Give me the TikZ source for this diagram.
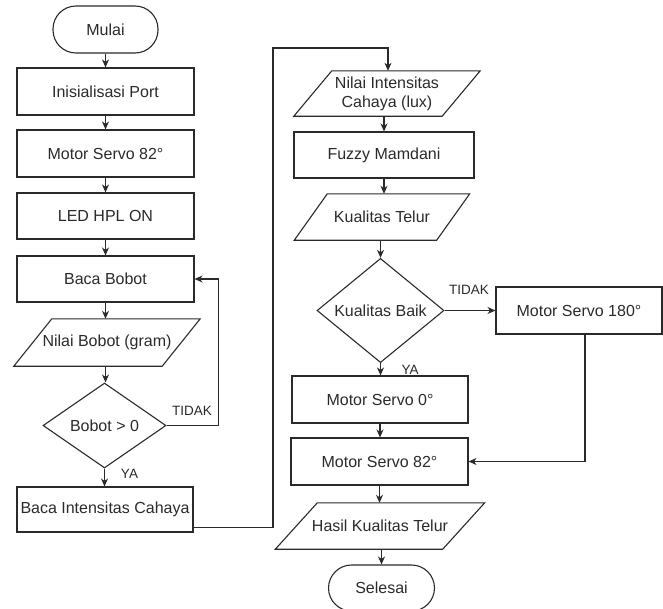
\documentclass[tikz,border=0pt]{standalone}
\usepackage{fontspec}
\setmainfont{Liberation Sans}
\usetikzlibrary{shapes.geometric,arrows.meta}
\definecolor{ink}{HTML}{2A2A2A}
% name, x, y, width, height, half slant, text
\newcommand\iobox[7]{%
  \node[iotext, minimum width=#4pt, minimum height=#5pt] (#1) at (#2,#3) {#7};
  \draw[shapeline] ([xshift=-#6pt]#1.south west) -- ([xshift=#6pt]#1.north west)
    -- ([xshift=#6pt]#1.north east) -- ([xshift=-#6pt]#1.south east) -- cycle;
}
\begin{document}
\begin{tikzpicture}[x=1pt,y=-1pt,
  font=\fontsize{16}{19}\selectfont, text=ink,
  proc/.style={draw=ink, line width=1.1pt, rectangle, minimum width=177pt, minimum height=47pt, inner sep=0pt, align=center},
  term/.style={draw=ink, line width=1.1pt, rectangle, rounded corners=23pt, minimum width=105pt, minimum height=47pt, inner sep=0pt},
  dec/.style={draw=ink, line width=1.1pt, diamond, inner sep=0pt},
  iotext/.style={rectangle, inner sep=0pt, align=center},
  shapeline/.style={draw=ink, line width=1.1pt, line join=miter},
  arr/.style={draw=ink, line width=1.1pt, -{Stealth[length=8pt,width=7pt,inset=2.5pt]}},
  lbl/.style={font=\fontsize{13.5}{16}\selectfont, inner sep=0pt}]
\useasboundingbox (0,0) rectangle (663,608);

% left column
\node[term] (mulai) at (105.5,29.5) {Mulai};
\node[proc] (init) at (105.5,91.5) {Inisialisasi Port};
\node[proc] (servoA) at (105.5,153.5) {Motor Servo 82°};
\node[proc, minimum height=46pt] (led) at (105.5,216) {LED HPL ON};
\node[proc, minimum height=46pt] (bacab) at (105.5,279) {Baca Bobot};
\iobox{nilaib}{107}{342.5}{148}{47}{19}{Nilai Bobot (gram)}
\node[dec, minimum width=123pt, minimum height=85pt] (dec1) at (104.5,425.5) {Bobot > 0};
\node[proc, minimum width=176pt, minimum height=45pt] (bacai) at (105,509.5) {Baca Intensitas Cahaya};

% right column
\iobox{nilaii}{387}{93.5}{148}{45}{19}{Nilai Intensitas\\Cahaya (lux)}
\node[proc, minimum width=180pt, minimum height=46pt] (fuzzy) at (384,155) {Fuzzy Mamdani};
\iobox{kual}{382}{217}{142}{46}{16.5}{Kualitas Telur}
\node[dec, minimum width=127pt, minimum height=101pt] (dec2) at (380.5,310.5) {Kualitas Baik};
\node[proc, minimum width=166pt] (s180) at (579,310.5) {Motor Servo 180°};
\node[proc, minimum width=176pt] (s0) at (380,399.5) {Motor Servo 0°};
\node[proc] (s82) at (379.5,461.5) {Motor Servo 82°};
\iobox{hasil}{380}{526}{167}{46}{21}{Hasil Kualitas Telur}
\node[term, minimum width=106pt, minimum height=46pt] (selesai) at (381.5,588) {Selesai};

% connectors left
\draw[arr] (mulai.south) -- (mulai.south |- init.north);
\draw[arr] (init.south) -- (servoA.north);
\draw[arr] (servoA.south) -- (led.north);
\draw[arr] (led.south) -- (bacab.north);
\draw[arr] (bacab.south) -- (bacab.south |- nilaib.north);
\draw[arr] (bacab.south |- nilaib.south) -- (bacab.south |- dec1.north);
\draw[arr] (dec1.east) -| ([xshift=24pt]bacab.east) -- (bacab.east);
\draw[arr] (dec1.south) -- (dec1.south |- bacai.north);
\node[lbl] (t1) at (192,411) {TIDAK};
\node[lbl] (y1) at (129.5,474) {YA};

% cross connector
\coordinate (cA) at (273,48);
\draw[arr] ([yshift=5pt]bacai.south east) -| (cA) -| ([xshift=1pt]nilaii.north);

% connectors right
\draw[arr] (fuzzy.north |- nilaii.south) -- (fuzzy.north);
\draw[arr] (fuzzy.south) -- (fuzzy.south |- kual.north);
\draw[arr] (dec2.north |- kual.south) -- (dec2.north);
\draw[arr] (dec2.east) -- (s180.west);
\draw[arr] (dec2.south) -- (dec2.south |- s0.north);
\draw[arr] (s0.south) -- (s0.south |- s82.north);
\draw[arr] ([xshift=6pt]s180.south) |- (s82.east);
\draw[arr] (s82.south) -- (s82.south |- hasil.north);
\draw[arr] (selesai.north |- hasil.south) -- (selesai.north);
\node[lbl] (t2) at (469,290) {TIDAK};
\node[lbl] (y2) at (410,370) {YA};
\end{tikzpicture}
\end{document}
